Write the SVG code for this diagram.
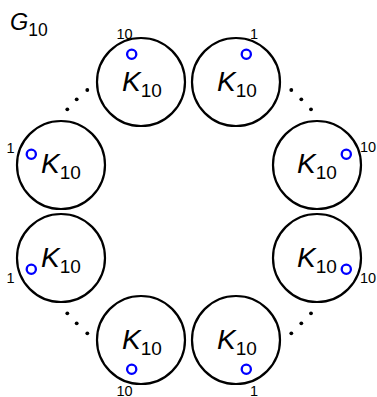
<svg xmlns="http://www.w3.org/2000/svg" width="377" height="397" viewBox="0 0 377 397">
<style>
.node{fill:#fff;stroke:#000;stroke-width:2.2}
.port{fill:none;stroke:#0000ff;stroke-width:2.3}
.k{font-family:"Liberation Sans",Arial,sans-serif;font-size:28px;fill:#000}
.k .i{font-style:italic}
.k .s{font-size:19px}
.lbl{font-family:"Liberation Sans",Arial,sans-serif;font-size:14.5px;fill:#000;text-anchor:middle}
.dot{fill:#000}
</style>
<rect width="377" height="397" fill="#fff"/>
<text class="k" x="10" y="30" style="font-size:23.5px"><tspan class="i">G</tspan><tspan style="font-size:17.5px" dy="6">10</tspan></text>
<g id="connectors">
<circle class="dot" cx="87.3" cy="90" r="1.9"/>
<circle class="dot" cx="76.7" cy="99.3" r="1.9"/>
<circle class="dot" cx="67.3" cy="109.3" r="1.9"/>
<circle class="dot" cx="291.3" cy="90" r="1.9"/>
<circle class="dot" cx="301.3" cy="99.3" r="1.9"/>
<circle class="dot" cx="311" cy="109.3" r="1.9"/>
<circle class="dot" cx="67.3" cy="313.3" r="1.9"/>
<circle class="dot" cx="76.7" cy="323.3" r="1.9"/>
<circle class="dot" cx="87.3" cy="333.3" r="1.9"/>
<circle class="dot" cx="291.3" cy="333.3" r="1.9"/>
<circle class="dot" cx="301.3" cy="323.3" r="1.9"/>
<circle class="dot" cx="311" cy="313.3" r="1.9"/>
</g>
<g id="n1">
<circle class="node" cx="141" cy="82" r="44"/>
<text class="k" x="142" y="91" text-anchor="middle"><tspan class="i">K</tspan><tspan class="s" dy="6">10</tspan></text>
<circle class="port" cx="131.7" cy="54.3" r="4.6"/>
<text class="lbl" x="124.5" y="38.5">10</text>
</g>
<g id="n2">
<circle class="node" cx="236" cy="82" r="44"/>
<text class="k" x="237" y="91" text-anchor="middle"><tspan class="i">K</tspan><tspan class="s" dy="6">10</tspan></text>
<circle class="port" cx="246.3" cy="54.3" r="4.6"/>
<text class="lbl" x="254" y="39">1</text>
</g>
<g id="n3">
<circle class="node" cx="61" cy="165" r="44"/>
<text class="k" x="61" y="172.5" text-anchor="middle"><tspan class="i">K</tspan><tspan class="s" dy="6">10</tspan></text>
<circle class="port" cx="31.3" cy="154.3" r="4.6"/>
<text class="lbl" x="10.5" y="152.5">1</text>
</g>
<g id="n4">
<circle class="node" cx="61" cy="258" r="44"/>
<text class="k" x="61" y="266.5" text-anchor="middle"><tspan class="i">K</tspan><tspan class="s" dy="6">10</tspan></text>
<circle class="port" cx="31.3" cy="269.3" r="4.6"/>
<text class="lbl" x="10.5" y="283">1</text>
</g>
<g id="n5">
<circle class="node" cx="317" cy="165" r="44"/>
<text class="k" x="317" y="172.5" text-anchor="middle"><tspan class="i">K</tspan><tspan class="s" dy="6">10</tspan></text>
<circle class="port" cx="346.3" cy="154.3" r="4.6"/>
<text class="lbl" x="368" y="151.5">10</text>
</g>
<g id="n6">
<circle class="node" cx="317" cy="258" r="44"/>
<text class="k" x="317" y="266.5" text-anchor="middle"><tspan class="i">K</tspan><tspan class="s" dy="6">10</tspan></text>
<circle class="port" cx="346.3" cy="269.3" r="4.6"/>
<text class="lbl" x="368" y="283">10</text>
</g>
<g id="n7">
<circle class="node" cx="141" cy="340" r="44"/>
<text class="k" x="142" y="348.5" text-anchor="middle"><tspan class="i">K</tspan><tspan class="s" dy="6">10</tspan></text>
<circle class="port" cx="131.7" cy="369.3" r="4.6"/>
<text class="lbl" x="124.5" y="395.5">10</text>
</g>
<g id="n8">
<circle class="node" cx="236" cy="340" r="44"/>
<text class="k" x="237" y="348.5" text-anchor="middle"><tspan class="i">K</tspan><tspan class="s" dy="6">10</tspan></text>
<circle class="port" cx="246.3" cy="369.3" r="4.6"/>
<text class="lbl" x="254" y="395.5">1</text>
</g>
</svg>
